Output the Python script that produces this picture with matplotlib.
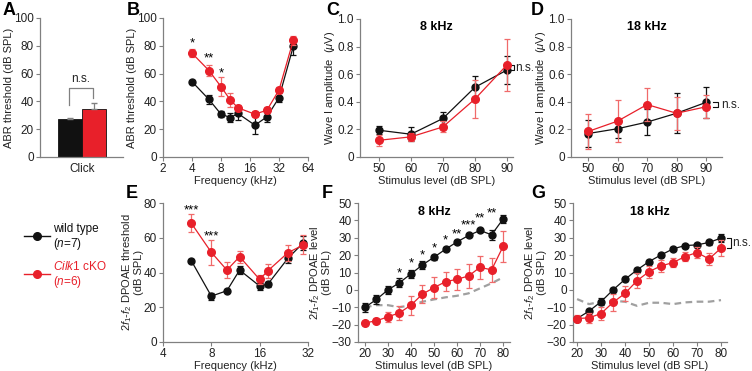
import matplotlib
matplotlib.use("Agg")
import matplotlib.pyplot as plt
from matplotlib.lines import Line2D
import numpy as np

plt.rcParams['font.family'] = ['Liberation Sans', 'DejaVu Sans']
plt.rcParams['mathtext.fontset'] = 'custom'
plt.rcParams['mathtext.rm'] = 'Liberation Sans'
plt.rcParams['mathtext.it'] = 'Liberation Sans:italic'
plt.rcParams['mathtext.bf'] = 'Liberation Sans:bold'
plt.rcParams['font.size'] = 8

BLACK = '#111111'
RED = '#e8202a'
RED_ERR = '#f06a6a'
GRAY = '#808080'
NOISE = '#a0a0a0'
TXT = '#222222'
TICK_FS = 8.5
LAB_FS = 8

# ---------------- data ----------------
# A: click ABR thresholds
A_groups = ['wild type', 'Cilk1 cKO']
A_means = [27.0, 34.3]
A_sems = [1.2, 4.5]

# B: ABR thresholds vs frequency
B_freq = [4, 6, 8, 10, 12, 18, 24, 32, 45]
B_wt = [54.2, 41.4, 30.8, 28.4, 31.3, 22.9, 28.9, 42.7, 79.5]
B_wt_err = [1.2, 3.0, 2.0, 3.5, 5.0, 6.5, 4.0, 3.0, 6.0]
B_ko = [74.7, 62.2, 50.6, 41.0, 35.4, 30.8, 33.7, 48.2, 83.9]
B_ko_err = [3.0, 4.0, 7.0, 5.0, 2.0, 2.0, 2.0, 2.0, 3.0]
B_stars = ['*', '**', '*']
B_star_x = [4, 6, 8]
B_star_y = [82, 71, 60]

# C/D: wave I amplitude
lvl = [50, 60, 70, 80, 90]
C_wt = [0.194, 0.165, 0.279, 0.505, 0.63]
C_wt_err = [0.03, 0.05, 0.05, 0.08, 0.10]
C_ko = [0.121, 0.146, 0.218, 0.42, 0.667]
C_ko_err = [0.04, 0.03, 0.04, 0.14, 0.19]
D_wt = [0.17, 0.205, 0.253, 0.317, 0.396]
D_wt_err = [0.10, 0.07, 0.095, 0.145, 0.11]
D_ko = [0.185, 0.26, 0.38, 0.317, 0.364]
D_ko_err = [0.13, 0.15, 0.12, 0.12, 0.085]

# E: DPOAE thresholds
E_freq = [6, 8, 10, 12, 16, 18, 24, 30]
E_wt = [46.8, 26.4, 29.5, 41.4, 32.2, 33.3, 48.2, 57.2]
E_wt_err = [1.0, 2.0, 1.0, 2.5, 2.0, 1.5, 2.5, 4.0]
E_ko = [68.4, 51.6, 41.4, 49.1, 36.0, 41.0, 51.4, 55.9]
E_ko_err = [5.0, 7.0, 4.5, 3.5, 2.5, 4.0, 4.5, 5.5]
E_stars = ['***', '***']
E_star_x = [6, 8]
E_star_y = [76, 61]

# F/G: DPOAE I/O
spl = [20, 25, 30, 35, 40, 45, 50, 55, 60, 65, 70, 75, 80]
F_wt = [-10.1, -5.5, 0.0, 4.1, 9.2, 14.4, 18.8, 23.4, 27.6, 31.3, 34.2, 31.7, 40.8]
F_wt_err = [2.5, 2.5, 2.5, 2.5, 2.5, 2.5, 1.5, 1.0, 1.0, 1.0, 1.0, 3.0, 2.5]
F_ko = [-19.0, -17.8, -15.5, -13.2, -8.8, -2.4, 1.3, 4.7, 6.1, 8.0, 13.0, 11.5, 25.0]
F_ko_err = [1.0, 1.5, 3.0, 4.0, 5.5, 5.0, 6.0, 5.5, 6.0, 7.0, 6.5, 7.0, 8.7]
F_noise = [-10.0, -8.8, -8.8, -10.0, -8.8, -6.8, -5.5, -4.3, -3.4, -2.0, 0.9, 3.8, 7.2]
F_stars = ['*', '*', '*', '*', '*', '**', '***', '**', '**']
F_star_x = [35, 40, 45, 50, 55, 60, 65, 70, 75]
F_star_y = [9.5, 15.3, 19.7, 24.0, 28.2, 32.0, 36.9, 40.9, 44.2]

G_wt = [-16.5, -12.2, -6.8, 0.0, 6.1, 11.5, 16.3, 20.1, 23.6, 25.5, 25.9, 27.3, 29.8]
G_wt_err = [1.5, 1.0, 2.0, 1.0, 1.0, 1.0, 1.0, 1.0, 1.0, 1.0, 1.0, 1.5, 2.5]
G_ko = [-16.5, -16.1, -13.6, -7.2, -2.0, 5.3, 10.5, 13.8, 15.7, 19.2, 21.5, 17.8, 24.0]
G_ko_err = [2.0, 3.0, 3.5, 5.0, 4.5, 4.5, 3.5, 3.5, 2.5, 2.5, 3.0, 3.5, 4.5]
G_noise = [-5.3, -8.2, -6.8, -6.3, -6.8, -9.2, -7.4, -7.4, -8.2, -7.2, -6.8, -6.8, -5.9]

# ---------------- figure ----------------
W, H = 752, 371
fig = plt.figure(figsize=(W / 100, H / 100), dpi=100)


def add_ax(l, r, t, b):
    return fig.add_axes([l / W, 1 - b / H, (r - l) / W, (b - t) / H])


def style(ax):
    for s in ['top', 'right']:
        ax.spines[s].set_visible(False)
    for s in ['left', 'bottom']:
        ax.spines[s].set_color(GRAY)
        ax.spines[s].set_linewidth(0.9)
    ax.tick_params(color=GRAY, labelcolor=TXT, length=3, width=0.8,
                   labelsize=TICK_FS, pad=1.5)


def series(ax, x, y, e, color, ecolor, ms, z):
    ax.errorbar(x, y, yerr=e, color=color, ecolor=ecolor, marker='o', ms=ms,
                lw=0.9, elinewidth=0.9, capsize=2.3, capthick=0.9,
                mec=color, zorder=z)


def both(ax, x, wt, wte, ko, koe):
    series(ax, x, wt, wte, BLACK, BLACK, 5.0, 3)
    series(ax, x, ko, koe, RED, RED_ERR, 5.5, 4)


def plabel(x, y, s):
    fig.text(x / W, 1 - y / H, s, fontsize=13, fontweight='bold',
             ha='left', va='top')


def ylab(ax, s, pad=0):
    ax.set_ylabel(s, labelpad=pad, fontsize=LAB_FS, color=TXT,
                  linespacing=1.0)


def xlab(ax, s):
    ax.set_xlabel(s, labelpad=0.5, fontsize=LAB_FS, color=TXT)


def title(ax, s, y):
    ax.text(0.5, y, s, transform=ax.transAxes, ha='center', va='center',
            fontweight='bold', fontsize=9)


def ns_bracket(ax, x0, x1, ya, yb, xt):
    ax.plot([x0, x1, x1, x0], [ya, ya, yb, yb], color=BLACK, lw=0.8,
            clip_on=False)
    ax.text(xt, (ya + yb) / 2, 'n.s.', ha='left', va='center',
            fontsize=8.5, color=TXT, clip_on=False)


# ---- A ----
axA = add_ax(40, 123, 18, 157)
style(axA)
xa = np.arange(len(A_means))
axA.bar(xa, A_means, width=1.0, color=[BLACK, RED], edgecolor=BLACK,
        linewidth=0.6, zorder=2)
axA.errorbar(xa, A_means, yerr=[[0, 0], A_sems], fmt='none',
             ecolor=GRAY, elinewidth=0.9, capsize=2.3, zorder=3)
axA.set_xlim(-1.25, 2.21)
axA.set_ylim(0, 100)
axA.set_yticks([0, 20, 40, 60, 80, 100])
axA.set_xticks([0.5])
axA.set_xticklabels(['Click'])
axA.tick_params(axis='x', length=0, pad=4)
ylab(axA, 'ABR threshold (dB SPL)')
axA.plot([-0.05, -0.05, 0.95, 0.95], [37.4, 49.6, 49.6, 42.4],
         color=GRAY, lw=0.9)
axA.text(0.45, 51.5, 'n.s.', ha='center', va='bottom', fontsize=8.5,
         color=TXT)

# ---- B ----
axB = add_ax(163, 308, 18, 157)
style(axB)
axB.set_xscale('log', base=2)
both(axB, B_freq, B_wt, B_wt_err, B_ko, B_ko_err)
axB.set_xlim(2, 64)
axB.set_ylim(0, 100)
axB.set_xticks([2, 4, 8, 16, 32, 64])
axB.set_xticklabels(['2', '4', '8', '16', '32', '64'])
axB.minorticks_off()
axB.set_yticks([0, 20, 40, 60, 80, 100])
xlab(axB, 'Frequency (kHz)')
ylab(axB, 'ABR threshold (dB SPL)')
for s, x, y in zip(B_stars, B_star_x, B_star_y):
    axB.text(x, y, s, ha='center', va='center', fontsize=9.5)

# ---- C ----
axC = add_ax(360, 513, 19, 157)
style(axC)
both(axC, lvl, C_wt, C_wt_err, C_ko, C_ko_err)
axC.set_xlim(44.1, 91.9)
axC.set_ylim(0, 1.0)
axC.set_xticks(lvl)
axC.set_yticks([0, 0.2, 0.4, 0.6, 0.8, 1.0])
axC.set_yticklabels(['0', '0.2', '0.4', '0.6', '0.8', '1.0'])
xlab(axC, 'Stimulus level (dB SPL)')
ylab(axC, r'Wave I amplitude  ($\mu$V)')
title(axC, '8 kHz', 0.94)
ns_bracket(axC, 90.9, 92.2, C_wt[-1], C_ko[-1], 92.6)

# ---- D ----
axD = add_ax(571, 722, 19, 157)
style(axD)
both(axD, lvl, D_wt, D_wt_err, D_ko, D_ko_err)
axD.set_xlim(44.2, 95.4)
axD.set_ylim(0, 1.0)
axD.set_xticks(lvl)
axD.set_yticks([0, 0.2, 0.4, 0.6, 0.8, 1.0])
axD.set_yticklabels(['0', '0.2', '0.4', '0.6', '0.8', '1.0'])
xlab(axD, 'Stimulus level (dB SPL)')
ylab(axD, r'Wave I amplitude  ($\mu$V)')
title(axD, '18 kHz', 0.94)
ns_bracket(axD, 92.3, 94.2, D_wt[-1], D_ko[-1], 95.0)

# ---- E ----
axE = add_ax(163, 308, 203, 342)
style(axE)
axE.set_xscale('log', base=2)
both(axE, E_freq, E_wt, E_wt_err, E_ko, E_ko_err)
axE.set_xlim(4, 32)
axE.set_ylim(0, 80)
axE.set_xticks([4, 8, 16, 32])
axE.set_xticklabels(['4', '8', '16', '32'])
axE.minorticks_off()
axE.set_yticks([0, 20, 40, 60, 80])
xlab(axE, 'Frequency (kHz)')
ylab(axE, '2$\\it{f}_1$-$\\it{f}_2$ DPOAE threshold\n(dB SPL)')
for s, x, y in zip(E_stars, E_star_x, E_star_y):
    axE.text(x, y, s, ha='center', va='center', fontsize=9.5)

# ---- F ----
axF = add_ax(358, 510, 203, 342)
style(axF)
axF.plot(spl, F_noise, color=NOISE, lw=1.6, ls=(0, (3, 2)), zorder=2)
both(axF, spl, F_wt, F_wt_err, F_ko, F_ko_err)
axF.set_xlim(17.0, 83.0)
axF.set_ylim(-30, 50)
axF.set_xticks(spl[::2])
axF.set_yticks(range(-30, 51, 10))
xlab(axF, 'Stimulus level (dB SPL)')
ylab(axF, '2$\\it{f}_1$-$\\it{f}_2$ DPOAE level\n(dB SPL)')
title(axF, '8 kHz', 0.935)
for s, x, y in zip(F_stars, F_star_x, F_star_y):
    axF.text(x, y, s, ha='center', va='center', fontsize=9.5)

# ---- G ----
axG = add_ax(573, 727, 203, 342)
style(axG)
axG.plot(spl, G_noise, color=NOISE, lw=1.6, ls=(0, (3, 2)), zorder=2)
both(axG, spl, G_wt, G_wt_err, G_ko, G_ko_err)
axG.set_xlim(18.3, 82.5)
axG.set_ylim(-30, 50)
axG.set_xticks(spl[::2])
axG.set_yticks(range(-30, 51, 10))
xlab(axG, 'Stimulus level (dB SPL)')
ylab(axG, '2$\\it{f}_1$-$\\it{f}_2$ DPOAE level\n(dB SPL)')
title(axG, '18 kHz', 0.935)
ns_bracket(axG, 82.3, 84.0, G_wt[-1], G_ko[-1], 84.5)

# ---- legend (drawn in figure pixel coordinates) ----
def px(x, y):
    return x / W, 1 - y / H


for color, ly, l1, l2 in [(BLACK, 236, 'wild type', '($\\it{n}$=7)'),
                          (RED, 274, '$\\it{Cilk1}$ cKO', '($\\it{n}$=6)')]:
    (x0, yy), (x1, _) = px(24, ly), px(50, ly)
    fig.add_artist(Line2D([x0, x1], [yy, yy], color=color, lw=1.0,
                          transform=fig.transFigure))
    mx, _ = px(37, ly)
    fig.add_artist(Line2D([mx], [yy], color=color, marker='o', ms=5.5,
                          transform=fig.transFigure))
    tx, ty1 = px(53, ly - 7)
    _, ty2 = px(53, ly + 7.5)
    fig.text(tx, ty1, l1, color=color, fontsize=8.5, ha='left', va='center')
    fig.text(tx, ty2, l2, color=color, fontsize=8.5, ha='left', va='center')

# ---- panel letters ----
plabel(3, 2, 'A')
plabel(127, 2, 'B')
plabel(326, 2, 'C')
plabel(531, 2, 'D')
plabel(126, 185, 'E')
plabel(322, 185, 'F')
plabel(531, 185, 'G')

fig.savefig('out.png', dpi=100)
